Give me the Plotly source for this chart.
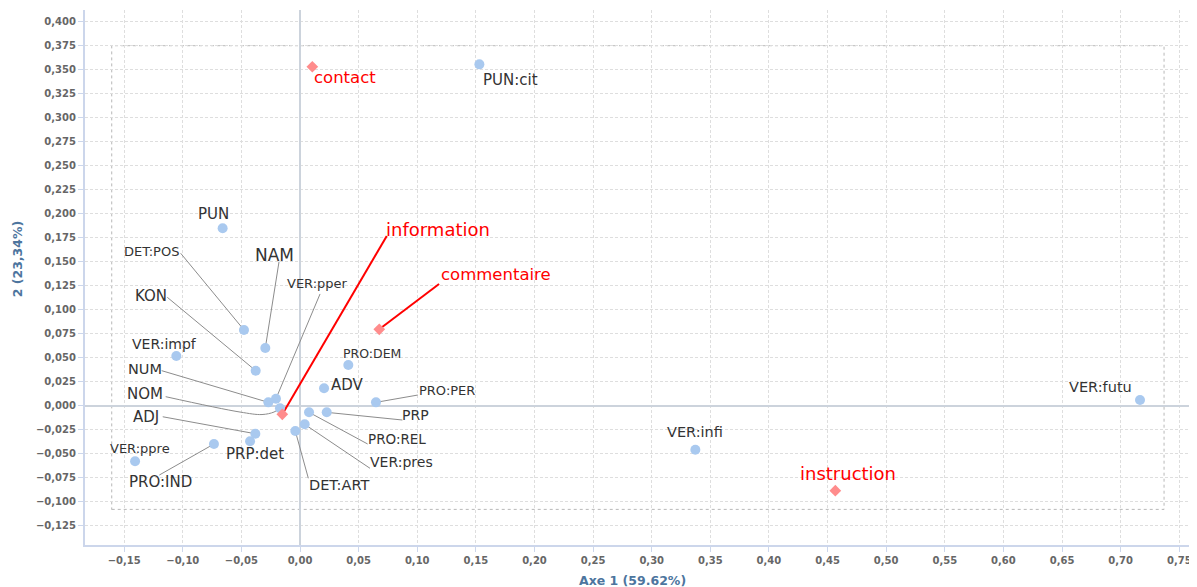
import plotly.graph_objects as go

# ---- data: categories (blue points) ----
categories = ["PUN:cit", "PUN", "DET:POS", "NAM", "VER:pper", "KON", "VER:impf", "NUM", "NOM", "ADJ",
              "PRP:det", "VER:ppre", "PRO:IND", "PRO:DEM", "ADV", "PRO:PER", "PRP", "PRO:REL",
              "VER:pres", "DET:ART", "VER:infi", "VER:futu"]
axis1 = [0.1530, -0.0660, -0.0478, -0.0296, -0.0205, -0.0378, -0.1055, -0.0270, -0.0171, -0.0381,
         -0.0426, -0.1407, -0.0734, 0.0412, 0.0205, 0.0648, 0.0228, 0.0077,
         0.0040, -0.0040, 0.3372, 0.7165]
axis2 = [0.3556, 0.1848, 0.0789, 0.0601, 0.0073, 0.0365, 0.0518, 0.0035, -0.0027, -0.0292,
         -0.0371, -0.0579, -0.0399, 0.0424, 0.0181, 0.0035, -0.0069, -0.0069,
         -0.0194, -0.0264, -0.0458, 0.0059]

# ---- data: text genres (red diamonds) ----
genres = ["contact", "information", "commentaire", "instruction"]
genre_axis1 = [0.0105, -0.0151, 0.0676, 0.4566]
genre_axis2 = [0.3531, -0.0090, 0.0796, -0.0885]

# ---- tick labels ----
x_tickvals = [round(-0.15 + 0.05 * i, 2) for i in range(19)]
x_ticktext = [("−" if v < 0 else "") + f"{abs(v):.2f}".replace(".", ",") for v in x_tickvals]
y_tickvals = [round(-0.125 + 0.025 * i, 3) for i in range(22)]
y_ticktext = [("−" if v < 0 else "") + f"{abs(v):.3f}".replace(".", ",") for v in y_tickvals]

# ---- label placement (data units) ----
cat_label_x = [0.1795, -0.0734, -0.1267, -0.0218, 0.0147, -0.1267, -0.1158, -0.1325, -0.1318, -0.1314,
               -0.0380, -0.1366, -0.1192, 0.0614, 0.0409, 0.1250, 0.0983, 0.0826,
               0.0864, 0.0330, 0.3365, 0.6824]
cat_label_y = [0.3393, 0.1997, 0.1604, 0.1570, 0.1275, 0.1143, 0.0643, 0.0382, 0.0125, -0.0115,
               -0.0503, -0.0444, -0.0798, 0.0546, 0.0213, 0.0156, -0.0100, -0.0347,
               -0.0586, -0.0826, -0.0277, 0.0198]
cat_label_size = [15, 15, 13, 17, 13, 15, 14, 14.5, 15, 15,
                  15, 13, 15, 12.5, 15, 13, 14, 13.5,
                  14, 14.5, 14.5, 14.5]
# leader line start (None = no leader)
cat_leader = [None, None, (-0.1018, 0.1588), (-0.0179, 0.1500), (0.0171, 0.1164), (-0.1132, 0.1129),
              None, (-0.1180, 0.0365), (-0.1146, 0.0094), (-0.1171, -0.0115),
              None, None, (-0.1200, -0.0722), None, None, (0.1004, 0.0111), (0.0873, -0.0149),
              (0.0577, -0.0399), (0.0597, -0.0652), (0.0071, -0.0756), None, None]
# bend points for the curved NOM leader
nom_bend_x = [-0.0512, -0.0324, -0.0222]
nom_bend_y = [-0.0066, -0.0092, -0.0066]

genre_label_x = [0.0380, 0.1180, 0.1670, 0.4673]
genre_label_y = [0.3417, 0.1838, 0.1369, -0.0704]
genre_label_size = [16.5, 18, 16.5, 18]
genre_leader = [None, (0.0740, 0.1768), (0.1186, 0.1268), None]

frame_x = [-0.1606, 0.737]
frame_y = [-0.108, 0.375]

FONT = "DejaVu Sans"

fig = go.Figure()

# leader lines (grey)
for i, lead in enumerate(cat_leader):
    if lead is None:
        continue
    if categories[i] == "NOM":
        xs = [lead[0]] + nom_bend_x + [axis1[i]]
        ys = [lead[1]] + nom_bend_y + [axis2[i]]
        shape = "spline"
    else:
        xs = [lead[0], axis1[i]]
        ys = [lead[1], axis2[i]]
        shape = "linear"
    fig.add_trace(go.Scatter(x=xs, y=ys, mode="lines", hoverinfo="skip", showlegend=False,
                             line=dict(color="#8c8c8c", width=1, shape=shape, smoothing=1.0)))

# leader lines (red)
for i, lead in enumerate(genre_leader):
    if lead is None:
        continue
    fig.add_trace(go.Scatter(x=[lead[0], genre_axis1[i]], y=[lead[1], genre_axis2[i]], mode="lines",
                             hoverinfo="skip", showlegend=False,
                             line=dict(color="#ff0000", width=2)))

fig.add_trace(go.Scatter(x=axis1, y=axis2, mode="markers", text=categories, showlegend=False,
                         marker=dict(symbol="circle", size=10, color="#a9c9ef")))
fig.add_trace(go.Scatter(x=genre_axis1, y=genre_axis2, mode="markers", text=genres, showlegend=False,
                         marker=dict(symbol="diamond", size=9, color="#ff8c8c")))

for i, c in enumerate(categories):
    fig.add_annotation(x=cat_label_x[i], y=cat_label_y[i], text=c, showarrow=False,
                       xanchor="center", yanchor="middle",
                       font=dict(family=FONT, size=cat_label_size[i], color="#333333"))
for i, g in enumerate(genres):
    fig.add_annotation(x=genre_label_x[i], y=genre_label_y[i], text=g, showarrow=False,
                       xanchor="center", yanchor="middle",
                       font=dict(family=FONT, size=genre_label_size[i], color="#ff0000"))

fig.add_shape(type="rect", x0=frame_x[0], x1=frame_x[1], y0=frame_y[0], y1=frame_y[1],
              line=dict(color="#b8b8b8", width=1, dash="dot"), layer="below")

# axis titles
fig.add_annotation(xref="paper", yref="paper", x=0.493, y=0, yshift=-35, text="<b>Axe 1 (59.62%)</b>",
                   showarrow=False, xanchor="center", yanchor="middle",
                   font=dict(family=FONT, size=12.5, color="#4d759e"))
fig.add_annotation(xref="paper", yref="paper", x=0, xshift=-68, y=0.534, text="<b>2 (23,34%)</b>",
                   textangle=-90, showarrow=False, xanchor="center", yanchor="middle",
                   font=dict(family=FONT, size=12.5, color="#4d759e"))

axis_common = dict(
    showgrid=True, gridcolor="#dedede", gridwidth=1, griddash="3px,2px",
    zeroline=True, zerolinecolor="#ccd3dc", zerolinewidth=2,
    showline=True, linecolor="#ccd6eb", linewidth=2,
    ticks="outside", ticklen=5, tickcolor="#ccd6eb", tickwidth=1,
    tickfont=dict(family=FONT, size=10, color="#666666", weight="bold"),
    automargin=False,
)

# page body has an 8px default margin: figure sized so it fits the 1197x587 window exactly
fig.update_layout(
    width=1189, height=579,
    margin=dict(l=77, r=2, t=2, b=42, autoexpand=False),
    paper_bgcolor="white", plot_bgcolor="white",
    showlegend=False,
    xaxis=dict(range=[-0.1834, 0.7634], tickmode="array", tickvals=x_tickvals, ticktext=x_ticktext,
               **axis_common),
    yaxis=dict(range=[-0.1451, 0.4122], tickmode="array", tickvals=y_tickvals, ticktext=y_ticktext,
               **axis_common),
)

fig.write_html("out.html")
